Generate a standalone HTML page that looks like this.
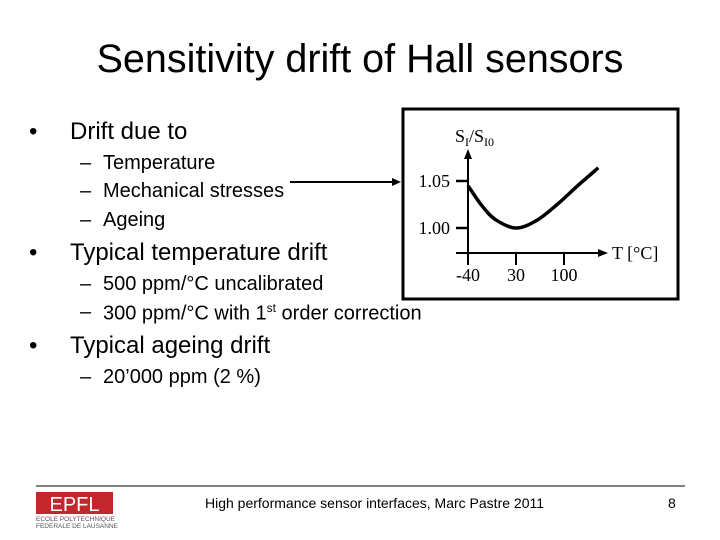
<!DOCTYPE html>
<html><head><meta charset="utf-8"><style>
body{margin:0;width:720px;height:540px;background:#fff;position:relative;overflow:hidden;font-family:"Liberation Sans",sans-serif;color:#000}
.t{position:absolute;white-space:nowrap}
.b{font-size:24px}
.s{font-size:20px}
</style></head><body>
<div class="t" style="left:0;width:720px;text-align:center;top:37px;font-size:39.5px">Sensitivity drift of Hall sensors</div>
<div class="t b" style="left:29px;top:118px">•</div>
<div class="t b" style="left:70px;top:118px">Drift due to</div>
<div class="t s" style="left:80px;top:152px">–</div>
<div class="t s" style="left:103px;top:152px">Temperature</div>
<div class="t s" style="left:80px;top:180px">–</div>
<div class="t s" style="left:103px;top:180px">Mechanical stresses</div>
<div class="t s" style="left:80px;top:209px">–</div>
<div class="t s" style="left:103px;top:209px">Ageing</div>
<div class="t b" style="left:29px;top:239px">•</div>
<div class="t b" style="left:70px;top:239px">Typical temperature drift</div>
<div class="t s" style="left:80px;top:273px">–</div>
<div class="t s" style="left:103px;top:273px">500 ppm/°C uncalibrated</div>
<div class="t s" style="left:80px;top:301px">–</div>
<div class="t s" style="left:103px;top:301px">300 ppm/°C with 1<sup style="font-size:12px">st</sup> order correction</div>
<div class="t b" style="left:29px;top:332px">•</div>
<div class="t b" style="left:70px;top:332px">Typical ageing drift</div>
<div class="t s" style="left:80px;top:366px">–</div>
<div class="t s" style="left:103px;top:366px">20’000 ppm (2 %)</div>
<svg width="720" height="540" style="position:absolute;left:0;top:0">
<rect x="403" y="109" width="275" height="190" fill="none" stroke="#000" stroke-width="3"/>
<line x1="290" y1="182" x2="393" y2="182" stroke="#000" stroke-width="2"/>
<polygon points="401,182 392,178 392,186" fill="#000"/>
<g id="axes"></g>
<path id="curve" fill="none" stroke="#000" stroke-width="3.5"/>
<text x="455" y="142" font-family="Liberation Serif,serif" font-size="18">S<tspan font-size="12" dy="4">I</tspan><tspan dy="-4">/S</tspan><tspan font-size="12" dy="4">I0</tspan></text>
<text x="612" y="259" font-family="Liberation Serif,serif" font-size="18">T [°C]</text>
<line x1="36" y1="486" x2="685" y2="486" stroke="#000" stroke-width="1"/>
<g>
<rect x="36" y="492" width="77" height="22" fill="#c3272e"/>
<text x="74.5" y="511" text-anchor="middle" font-size="20" fill="#fff" font-family="Liberation Sans Narrow,Liberation Sans,sans-serif">EPFL</text>
<text x="36" y="521" font-size="6.5" fill="#555">ECOLE POLYTECHNIQUE</text>
<text x="36" y="528" font-size="6.5" fill="#555">FEDERALE DE LAUSANNE</text>
</g>
</svg>
<div class="t" style="left:205px;top:495px;font-size:14px">High performance sensor interfaces, Marc Pastre 2011</div>
<div class="t" style="left:668px;top:495px;font-size:14px">8</div>
<script>
const temps=[-40,-20,0,30,60,90,120,150];
const ratios=[1.045,1.024,1.009,1.0,1.008,1.025,1.045,1.064];
const xTicks=[-40,30,100];
const yTicks=[1.00,1.05];
const yTickLabels=["1.00","1.05"];
const X=t=>468+(t+40)*48/70;
const Y=v=>228-(v-1)*47/0.05;
const NS="http://www.w3.org/2000/svg";
const g=document.getElementById('axes');
function mk(tag,a){const e=document.createElementNS(NS,tag);for(const k in a)e.setAttribute(k,a[k]);g.appendChild(e);return e;}
let e=mk('line',{x1:468,y1:262,x2:468,y2:157,stroke:'#000','stroke-width':2});


e=mk('polygon',{points:'468,149 464,159 472,159',fill:'#000'});
e=mk('line',{x1:456,y1:253,x2:600,y2:253,stroke:'#000','stroke-width':2});


e=mk('polygon',{points:'608,253 598,249 598,257',fill:'#000'});
xTicks.forEach(t=>{const x=X(t);
e=mk('line',{x1:x,y1:253,x2:x,y2:265,stroke:'#000','stroke-width':2});


e=mk('text',{x:x,y:281,'text-anchor':'middle','font-family':'Liberation Serif,serif','font-size':18});
e.textContent=t;


});
yTicks.forEach((v,i)=>{const y=Y(v);
e=mk('line',{x1:456,y1:y,x2:468,y2:y,stroke:'#000','stroke-width':2.5});


e=mk('text',{x:450,y:y+6,'text-anchor':'end','font-family':'Liberation Serif,serif','font-size':18});
e.textContent=yTickLabels[i];


});
const P=temps.map((t,i)=>[X(t),Y(ratios[i])]);
let d='M'+P[0][0]+','+P[0][1];
for(let i=0;i<P.length-1;i++){const p0=P[i-1]||P[i],p1=P[i],p2=P[i+1],p3=P[i+2]||p2;
d+=` C${p1[0]+(p2[0]-p0[0])/6},${p1[1]+(p2[1]-p0[1])/6} ${p2[0]-(p3[0]-p1[0])/6},${p2[1]-(p3[1]-p1[1])/6} ${p2[0]},${p2[1]}`;}
document.getElementById('curve').setAttribute('d',d);
</script>
</body></html>
